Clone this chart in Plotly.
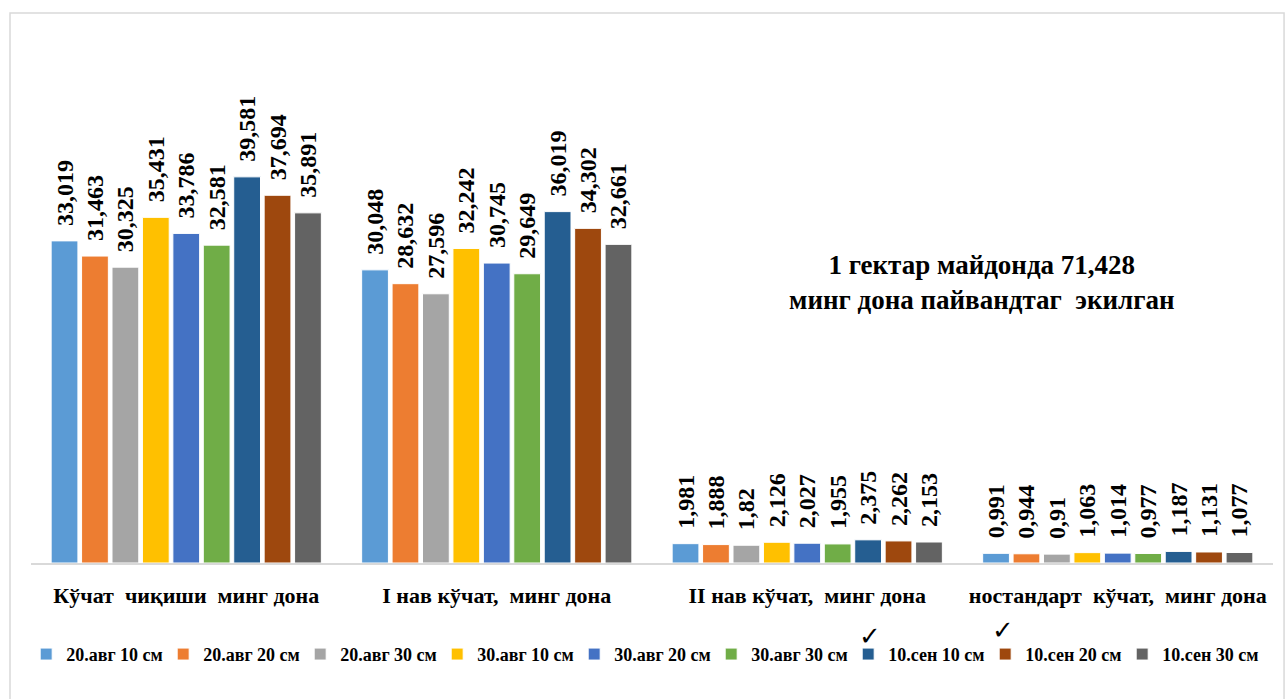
import plotly.graph_objects as go

categories = ["Кўчат  чиқиши  минг дона", "I нав кўчат,  минг дона",
              "II нав кўчат,  минг дона", "ностандарт  кўчат,  минг дона"]
series_names = ["20.авг 10 см", "20.авг 20 см", "20.авг 30 см",
                "30.авг 10 см", "30.авг 20 см", "30.авг 30 см",
                "10.сен 10 см", "10.сен 20 см", "10.сен 30 см"]
colors = ["#5B9BD5", "#ED7D31", "#A5A5A5", "#FFC000", "#4472C4",
          "#70AD47", "#255E91", "#9E480E", "#636363"]

s_20avg_10 = [33.019, 30.048, 1.981, 0.991]
s_20avg_20 = [31.463, 28.632, 1.888, 0.944]
s_20avg_30 = [30.325, 27.596, 1.82, 0.91]
s_30avg_10 = [35.431, 32.242, 2.126, 1.063]
s_30avg_20 = [33.786, 30.745, 2.027, 1.014]
s_30avg_30 = [32.581, 29.649, 1.955, 0.977]
s_10sen_10 = [39.581, 36.019, 2.375, 1.187]
s_10sen_20 = [37.694, 34.302, 2.262, 1.131]
s_10sen_30 = [35.891, 32.661, 2.153, 1.077]
series_values = [s_20avg_10, s_20avg_20, s_20avg_30, s_30avg_10, s_30avg_20,
                 s_30avg_30, s_10sen_10, s_10sen_20, s_10sen_30]

note_text = "1 гектар майдонда 71,428<br>минг дона пайвандтаг  экилган"
check_mark = "✓"

FONT = "Liberation Serif"

fig = go.Figure()
for name, vals, col in zip(series_names, series_values, colors):
    fig.add_trace(go.Bar(
        x=categories, y=vals, name=name,
        marker=dict(color=col, line=dict(color="white", width=1)),
        text=[("\u00a0\u00a0" + str(v).replace(".", ",")) for v in vals],
        textposition="outside", textangle=-90, constraintext="none",
        cliponaxis=False,
        textfont=dict(family=FONT, size=24, color="black", weight="bold"),
    ))

fig.add_annotation(x=0.766, y=0.640, xref="paper", yref="paper",
                   xanchor="center", yanchor="middle",
                   text=note_text, showarrow=False,
                   font=dict(family=FONT, size=27, color="black", weight="bold"),
                   align="center")

# check marks above two legend entries
for cx, cy in [(0.6755, -0.166), (0.7826, -0.152)]:
    fig.add_annotation(x=cx, y=cy, xref="paper", yref="paper",
                       xanchor="center", yanchor="middle",
                       text=check_mark, showarrow=False,
                       font=dict(family="DejaVu Sans", size=26, color="black",
                                 weight="bold"))

# frame
fig.add_shape(type="rect", xref="paper", yref="paper",
              x0=-0.0169, x1=1.0089, y0=-0.32, y1=1.2528,
              line=dict(color="#D9D9D9", width=1.5), layer="below")

fig.update_layout(
    width=1285, height=699,
    margin=dict(l=31, r=12, t=124, b=136, autoexpand=False),
    paper_bgcolor="white", plot_bgcolor="white",
    barmode="group", bargap=0.118, bargroupgap=0.12,
    font=dict(family=FONT, color="black"),
    showlegend=True,
    legend=dict(orientation="h", x=0.4925, xanchor="center", y=-0.166, yanchor="top",
                font=dict(family=FONT, size=18, color="black", weight="bold"),
                itemwidth=30, entrywidth=92, entrywidthmode="pixels",
                tracegroupgap=0, bgcolor="rgba(0,0,0,0)"),
    xaxis=dict(showline=True, linecolor="#D9D9D9", linewidth=1.5, ticks="",
               ticklabelstandoff=12,
               tickfont=dict(family=FONT, size=22, color="black", weight="bold"),
               showgrid=False, zeroline=False),
    yaxis=dict(range=[0, 45], visible=False, showgrid=False, zeroline=False),
)

fig.write_html("out.html")
